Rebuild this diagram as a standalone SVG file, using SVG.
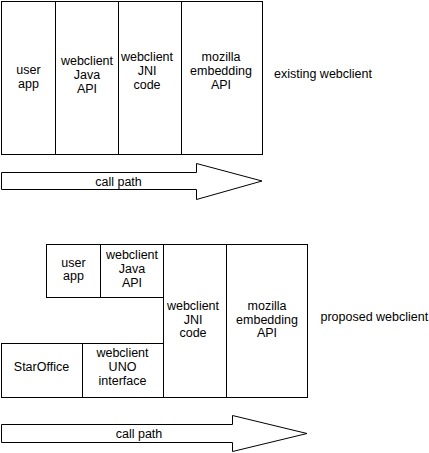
<svg xmlns="http://www.w3.org/2000/svg" width="429" height="453" viewBox="0 0 429 453">
<style>
  .box { fill: #ffffff; stroke: #000000; stroke-width: 1; }
  .t { font-family: "Liberation Sans", Arial, sans-serif; font-size: 12.5px; fill: #000000; text-anchor: middle; }
  .lbl { font-family: "Liberation Sans", Arial, sans-serif; font-size: 12.5px; fill: #000000; text-anchor: start; }
</style>
<rect x="0" y="0" width="429" height="453" fill="#ffffff"/>

<!-- existing webclient -->
<g id="existing">
  <g id="ex-userapp">
    <rect class="box" x="1.5" y="1.5" width="54" height="153"/>
    <text class="t" x="28.5" y="74">user</text>
    <text class="t" x="28.5" y="87.5">app</text>
  </g>
  <g id="ex-javaapi">
    <rect class="box" x="55.5" y="1.5" width="63" height="153"/>
    <text class="t" x="87" y="65">webclient</text>
    <text class="t" x="87" y="79">Java</text>
    <text class="t" x="87" y="93">API</text>
  </g>
  <g id="ex-jni">
    <rect class="box" x="118.5" y="1.5" width="63" height="153"/>
    <text class="t" x="147" y="61">webclient</text>
    <text class="t" x="147" y="75">JNI</text>
    <text class="t" x="147" y="89">code</text>
  </g>
  <g id="ex-mozilla">
    <rect class="box" x="181.5" y="1.5" width="81" height="153"/>
    <text class="t" x="221" y="61">mozilla</text>
    <text class="t" x="221" y="75">embedding</text>
    <text class="t" x="221" y="89">API</text>
  </g>
  <text id="ex-label" class="lbl" x="274" y="77.5">existing webclient</text>
</g>

<g id="ex-callpath">
  <polygon class="box" points="1.5,172.5 196.5,172.5 196.5,163.5 262,181 196.5,199.5 196.5,189.5 1.5,189.5"/>
  <text class="t" x="118.5" y="185.5">call path</text>
</g>

<!-- proposed webclient -->
<g id="proposed">
  <g id="pr-userapp">
    <rect class="box" x="46.5" y="244.5" width="54" height="53"/>
    <text class="t" x="73.5" y="266.5">user</text>
    <text class="t" x="73.5" y="280">app</text>
  </g>
  <g id="pr-javaapi">
    <rect class="box" x="100.5" y="244.5" width="63" height="53"/>
    <text class="t" x="132" y="259">webclient</text>
    <text class="t" x="132" y="273">Java</text>
    <text class="t" x="132" y="287">API</text>
  </g>
  <g id="pr-jni">
    <rect class="box" x="163.5" y="244.5" width="63" height="153"/>
    <text class="t" x="193" y="310">webclient</text>
    <text class="t" x="193" y="323.5">JNI</text>
    <text class="t" x="193" y="337">code</text>
  </g>
  <g id="pr-mozilla">
    <rect class="box" x="226.5" y="244.5" width="81" height="153"/>
    <text class="t" x="267" y="310">mozilla</text>
    <text class="t" x="267" y="323.5">embedding</text>
    <text class="t" x="267" y="337">API</text>
  </g>
  <g id="pr-staroffice">
    <rect class="box" x="1.5" y="343.5" width="81" height="54"/>
    <text class="t" x="41.5" y="371">StarOffice</text>
  </g>
  <g id="pr-uno">
    <rect class="box" x="82.5" y="343.5" width="81" height="54"/>
    <text class="t" x="122.5" y="357">webclient</text>
    <text class="t" x="122.5" y="371">UNO</text>
    <text class="t" x="122.5" y="385">interface</text>
  </g>
  <text id="pr-label" class="lbl" x="320.5" y="321">proposed webclient</text>
</g>

<g id="pr-callpath">
  <polygon class="box" points="1.5,424.5 232.5,424.5 232.5,415.5 307,433.5 232.5,451.5 232.5,442.5 1.5,442.5"/>
  <text class="t" x="139" y="438">call path</text>
</g>

<g id="connectors"></g>
</svg>
